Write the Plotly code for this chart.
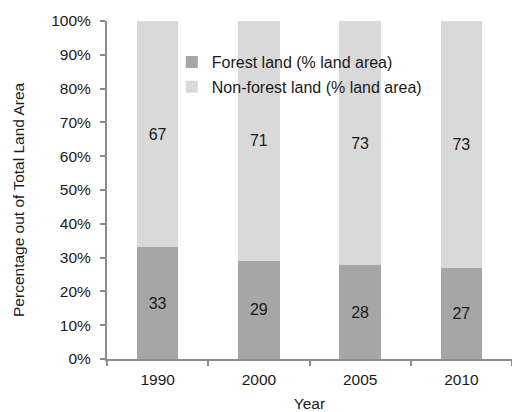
import plotly.graph_objects as go

years = ["1990", "2000", "2005", "2010"]
forest = [33, 29, 28, 27]
non_forest = [67, 71, 73, 73]
y_ticks = [0, 10, 20, 30, 40, 50, 60, 70, 80, 90, 100]

FONT = "Liberation Sans, Arial, Helvetica, sans-serif"
AXIS_GREY = "#8c8c8c"
TEXT = "#1a1a1a"

fig = go.Figure()
fig.add_trace(go.Bar(
    x=years, y=forest, name="Forest land (% land area)",
    marker=dict(color="#a6a6a6", line=dict(width=0)),
    text=[str(v) for v in forest], textposition="inside",
    insidetextanchor="middle", textangle=0,
    textfont=dict(size=16, color=TEXT, family=FONT),
    legendgroup="a",
))
fig.add_trace(go.Bar(
    x=years, y=non_forest, name="Non-forest land (% land area)",
    marker=dict(color="#d9d9d9", line=dict(width=0)),
    text=[str(v) for v in non_forest], textposition="inside",
    insidetextanchor="middle", textangle=0,
    textfont=dict(size=16, color=TEXT, family=FONT),
    legendgroup="b",
))

fig.update_layout(
    width=512, height=412,
    barmode="stack", barnorm="percent", bargap=0.59,
    paper_bgcolor="white", plot_bgcolor="white",
    margin=dict(l=107, r=0, t=21, b=53, autoexpand=False),
    font=dict(family=FONT, size=15.5, color=TEXT),
    uniformtext=dict(minsize=15, mode="show"),
    showlegend=True,
    legend=dict(
        x=0.16, y=0.929, xanchor="left", yanchor="top",
        traceorder="grouped", tracegroupgap=1,
        bgcolor="rgba(0,0,0,0)", font=dict(size=16, color=TEXT),
        itemwidth=30,
    ),
    xaxis=dict(
        type="category", showline=True, linecolor=AXIS_GREY, linewidth=2,
        ticks="outside", tickson="boundaries", ticklen=5, tickcolor=AXIS_GREY,
        tickwidth=2, showgrid=False, ticklabelstandoff=5,
        tickfont=dict(size=15.5, color=TEXT),
        title=dict(text="Year", font=dict(size=15.5, color=TEXT), standoff=12),
        automargin=False,
    ),
    yaxis=dict(
        range=[0, 100], tickvals=y_ticks,
        ticktext=[f"{v}%" for v in y_ticks],
        showline=True, linecolor=AXIS_GREY, linewidth=2,
        ticks="outside", ticklen=5, tickcolor=AXIS_GREY, tickwidth=2,
        showgrid=False, zeroline=False, ticklabelstandoff=6,
        tickfont=dict(size=15.5, color=TEXT),
        automargin=False,
    ),
    annotations=[dict(
        text="Percentage out of Total Land Area",
        xref="paper", yref="paper", x=-0.2198, y=0.4704,
        xanchor="center", yanchor="middle", textangle=-90,
        showarrow=False, font=dict(size=15.5, color=TEXT),
    )],
)

fig.write_html("out.html")
